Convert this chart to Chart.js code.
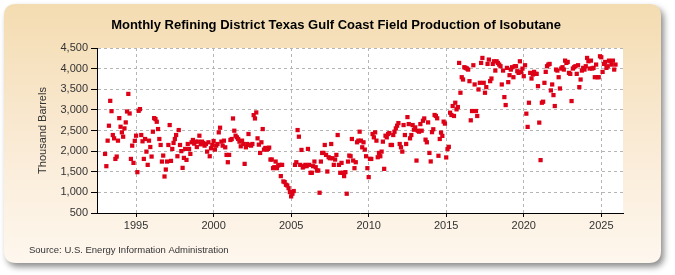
<!DOCTYPE html>
<html>
<head>
<meta charset="utf-8">
<script src="https://cdn.jsdelivr.net/npm/chart.js@4.4.0/dist/chart.umd.min.js"></script>
<style>
  html, body { margin: 0; padding: 0; background: #fff; }
  #wrap { width: 675px; height: 275px; }
</style>
</head>
<body>
<div id="wrap"><canvas id="chart" width="675" height="275"></canvas></div>
<script>
// monthly values, thousand barrels (Jan..Dec)
const p1993 = [1932, 1635, 2254, 2616, 3219, 2969, 2390, 2310, 1811, 1868, 2254, 2800];
const p1994 = [2591, 2455, 2350, 2551, 2696, 2961, 3387, 2913, 1811, 2133, 1715, 2250];
const p1995 = [2374, 1490, 2977, 3018, 2390, 2238, 1811, 2294, 1988, 1667, 2254, 2100];
const p1996 = [1868, 2471, 2800, 2776, 2712, 2535, 2294, 2149, 1747, 1892, 1385, 1554];
const p1997 = [1747, 2149, 2632, 1763, 2053, 2198, 2294, 2390, 1876, 2511, 2149, 2000];
const p1998 = [1594, 1836, 2053, 1787, 2173, 2053, 1932, 2214, 2270, 2181, 2230, 2100];
const p1999 = [2230, 2374, 2165, 2230, 2198, 2133, 2173, 1988, 2214, 1876, 2069, 2149];
const p2000 = [2246, 2037, 2133, 2173, 2455, 2567, 2230, 2133, 2254, 2093, 1908, 1731];
const p2001 = [1908, 2270, 2294, 2792, 2495, 2374, 2334, 2294, 2230, 2117, 2254, 2173];
const p2002 = [1691, 2093, 2173, 2415, 2149, 2133, 2173, 2873, 2792, 2937, 2310, 2157];
const p2003 = [1956, 2214, 2535, 2037, 2077, 2037, 2053, 2085, 1796, 1796, 1587, 1611];
const p2004 = [1747, 1587, 1651, 1667, 1394, 1667, 1265, 1249, 1184, 1168, 1104, 1007];
const p2005 = [903, 967, 1032, 1667, 1731, 2511, 2350, 1667, 2029, 1603, 1635, 1667];
const p2006 = [1635, 2053, 1667, 1474, 1474, 1635, 1747, 1611, 1530, 1530, 991, 1747];
const p2007 = [1956, 1956, 2149, 1908, 1506, 1852, 1828, 2173, 1828, 1667, 1796, 1908];
const p2008 = [2390, 1667, 1474, 1715, 1474, 1394, 1490, 967, 1747, 1892, 1876, 2294];
const p2009 = [1771, 1587, 1731, 2214, 2254, 2471, 2254, 2093, 2214, 2037, 1876, 1587];
const p2010 = [1370, 1811, 1811, 2415, 2334, 2455, 2254, 1852, 1956, 1876, 1988, 2230];
const p2011 = [1570, 2374, 2334, 2415, 2439, 2149, 2149, 2390, 2471, 2551, 2616, 2680];
const p2012 = [2173, 2093, 1988, 2632, 2390, 2173, 2825, 2656, 2310, 2390, 2632, 2519];
const p2013 = [2575, 1771, 2495, 2471, 2656, 2495, 2736, 2792, 2278, 2214, 2696, 1956];
const p2014 = [1750, 2460, 2530, 2876, 2852, 2796, 1887, 2294, 2450, 2369, 2715, 2667];
const p2015 = [1847, 2048, 2104, 2932, 2876, 3093, 2852, 3173, 3013, 3069, 4138, 3415];
const p2016 = [3792, 3736, 4034, 4018, 4002, 3977, 3696, 2747, 2972, 4082, 3616, 2972];
const p2017 = [2852, 3495, 3656, 4138, 4259, 3656, 3415, 3551, 4114, 4219, 3696, 3760];
const p2018 = [4114, 4178, 3953, 4178, 4138, 4098, 4058, 3616, 3953, 3310, 3117, 4018];
const p2019 = [3672, 3841, 3977, 4034, 3792, 4058, 4058, 3937, 3897, 4178, 3921, 4000];
const p2020 = [3817, 4082, 2908, 2587, 3173, 3897, 3760, 3857, 3921, 3873, 3873, 3575];
const p2021 = [2691, 1782, 3173, 3198, 3656, 3921, 4058, 4098, 4114, 3471, 3616, 3358];
const p2022 = [3093, 3977, 3953, 3792, 3519, 4002, 4034, 3977, 4194, 4138, 4162, 3897];
const p2023 = [3873, 3214, 4002, 4034, 4058, 3873, 4082, 3551, 3736, 3953, 4018, 3977];
const p2024 = [4058, 4259, 4178, 4002, 4194, 4002, 4018, 3792, 4098, 3792, 3792, 4299];
const p2025 = [4275, 3921, 4114, 4162, 4018, 4058, 4194, 4178, 4098, 4194, 3977, 4098];

const years = [1993, 1994, 1995, 1996, 1997, 1998, 1999, 2000, 2001, 2002, 2003,
  2004, 2005, 2006, 2007, 2008, 2009, 2010, 2011, 2012, 2013, 2014, 2015, 2016,
  2017, 2018, 2019, 2020, 2021, 2022, 2023, 2024, 2025];
const yearly = [p1993, p1994, p1995, p1996, p1997, p1998, p1999, p2000, p2001, p2002,
  p2003, p2004, p2005, p2006, p2007, p2008, p2009, p2010, p2011, p2012, p2013, p2014,
  p2015, p2016, p2017, p2018, p2019, p2020, p2021, p2022, p2023, p2024, p2025];

const xTickYears = [1995, 2000, 2005, 2010, 2015, 2020, 2025];

const titleText = 'Monthly Refining District Texas Gulf Coast Field Production of Isobutane';
const yAxisText = 'Thousand Barrels';
const sourceText = 'Source: U.S. Energy Information Administration';

// year + month fraction as x
const points = [];
years.forEach((yr, i) => {
  yearly[i].forEach((v, m) => points.push({ x: yr + m / 12, y: v }));
});

const FONT = '"Liberation Sans", Arial, sans-serif';

function roundRect(ctx, x, y, w, h, r) {
  ctx.beginPath();
  ctx.moveTo(x + r, y);
  ctx.lineTo(x + w - r, y);
  ctx.quadraticCurveTo(x + w, y, x + w, y + r);
  ctx.lineTo(x + w, y + h - r);
  ctx.quadraticCurveTo(x + w, y + h, x + w - r, y + h);
  ctx.lineTo(x + r, y + h);
  ctx.quadraticCurveTo(x, y + h, x, y + h - r);
  ctx.lineTo(x, y + r);
  ctx.quadraticCurveTo(x, y, x + r, y);
  ctx.closePath();
}

// beige rounded panel + white plot area
const panel = {
  id: 'panel',
  beforeDraw(chart) {
    const ctx = chart.ctx;
    const a = chart.chartArea;
    ctx.save();
    ctx.fillStyle = '#ffffff';
    ctx.fillRect(0, 0, chart.width, chart.height);

    ctx.shadowColor = 'rgba(0,0,0,0.45)';
    ctx.shadowBlur = 6;
    ctx.shadowOffsetX = 3;
    ctx.shadowOffsetY = 4;
    const g = ctx.createLinearGradient(0, 4, 0, 263);
    g.addColorStop(0, '#F4DCB1');
    g.addColorStop(0.55, '#FAEBD6');
    g.addColorStop(1, '#FEF7EE');
    ctx.fillStyle = g;
    roundRect(ctx, 4, 4, 657, 259, 12);
    ctx.fill();

    ctx.shadowColor = 'transparent';
    ctx.fillStyle = '#ffffff';
    ctx.fillRect(a.left, a.top, a.right - a.left, a.bottom - a.top);
    ctx.restore();
  },
  afterDraw(chart) {
    const ctx = chart.ctx;
    const a = chart.chartArea;
    ctx.save();
    ctx.fillStyle = '#000';
    ctx.font = 'bold 13px ' + FONT;
    ctx.textAlign = 'center';
    ctx.textBaseline = 'middle';
    ctx.fillText(titleText, 336, 25);

    ctx.fillStyle = '#333';
    ctx.font = '11px ' + FONT;
    ctx.translate(43, (a.top + a.bottom) / 2);
    ctx.rotate(-Math.PI / 2);
    ctx.fillText(yAxisText, 0, 0);
    ctx.restore();

    ctx.save();
    ctx.fillStyle = '#333';
    ctx.font = '9.5px ' + FONT;
    ctx.textAlign = 'left';
    ctx.textBaseline = 'middle';
    ctx.fillText(sourceText, 29, 250);
    ctx.restore();
  }
};

new Chart(document.getElementById('chart'), {
  type: 'scatter',
  data: {
    datasets: [{
      data: points,
      pointStyle: 'rect',
      pointRadius: 3,
      pointBackgroundColor: '#DD0016',
      pointBorderWidth: 0,
      showLine: false
    }]
  },
  options: {
    responsive: false,
    animation: false,
    devicePixelRatio: 1,
    layout: { padding: { left: 0, top: 48, right: 52, bottom: 0 } },
    plugins: {
      legend: { display: false },
      tooltip: { enabled: false },
      title: { display: false }
    },
    scales: {
      x: {
        type: 'linear',
        min: 1992.48,
        max: 2026.4,
        afterBuildTicks: (scale) => {
          scale.ticks = xTickYears.map(v => ({ value: v }));
        },
        afterFit: (scale) => { scale.height = 62; },
        ticks: {
          callback: (v) => String(v),
          color: '#333',
          font: { family: FONT, size: 11 },
          padding: 2,
          maxRotation: 0
        },
        grid: {
          color: '#B5B5B5',
          tickColor: '#000',
          tickLength: 4
        },
        border: { display: true, color: '#000', width: 1, dash: [3, 3] }
      },
      y: {
        min: 500,
        max: 4500,
        afterFit: (scale) => { scale.width = 97; },
        ticks: {
          stepSize: 500,
          callback: (v) => v.toLocaleString('en-US'),
          color: '#333',
          font: { family: FONT, size: 11 },
          padding: 3
        },
        grid: {
          color: '#B5B5B5',
          tickColor: '#000',
          tickLength: 6
        },
        border: { display: true, color: '#000', width: 1, dash: [3, 3] }
      }
    }
  },
  plugins: [panel]
});
</script>
</body>
</html>
